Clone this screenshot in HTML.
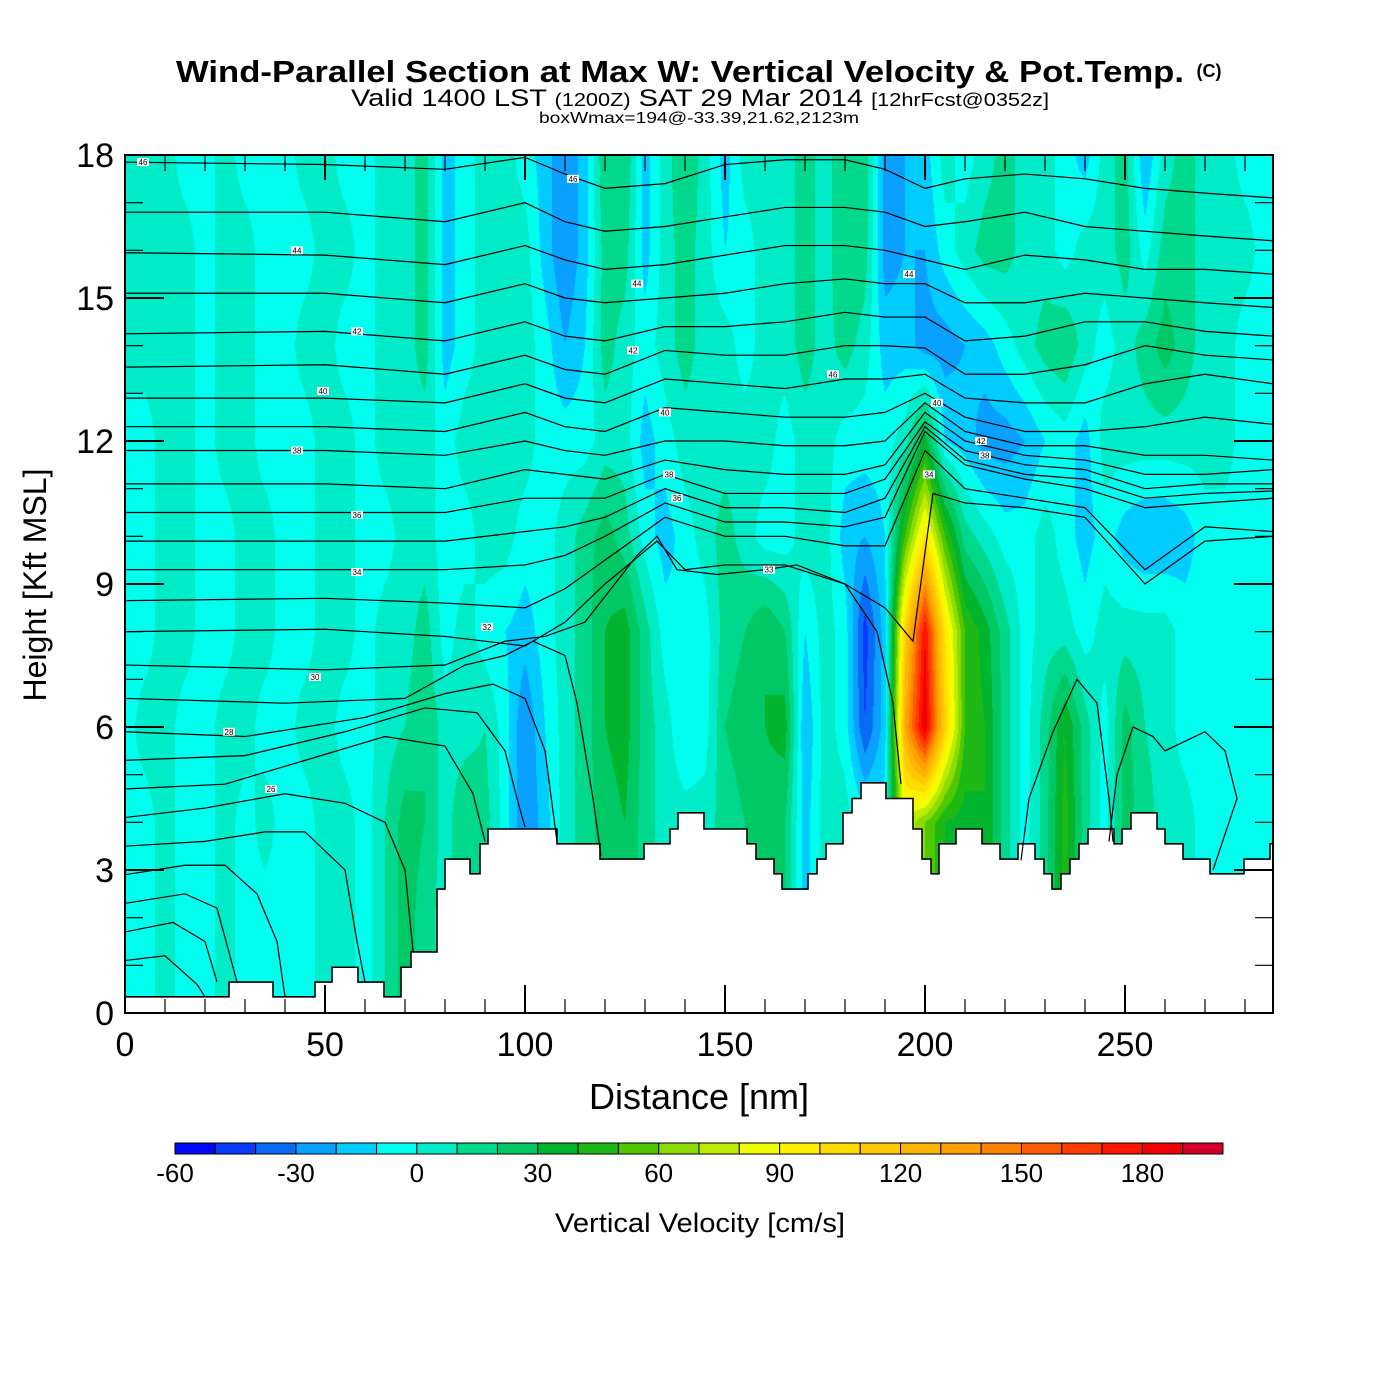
<!DOCTYPE html>
<html><head><meta charset="utf-8">
<style>
html,body{margin:0;padding:0;background:#fff;}
#wrap{position:relative;width:1400px;height:1400px;overflow:hidden;background:#fff;font-family:"Liberation Sans",sans-serif;}
#field{position:absolute;left:125px;top:155px;}
#over{position:absolute;left:0;top:0;}
</style></head>
<body>
<div id="wrap">
<canvas id="field" width="1148" height="858"></canvas>
<svg id="over" width="1400" height="1400" xmlns="http://www.w3.org/2000/svg">
<text x="680" y="82" text-anchor="middle" font-family="Liberation Sans, sans-serif" font-weight="bold" font-size="31" textLength="1008" lengthAdjust="spacingAndGlyphs">Wind-Parallel Section at Max W: Vertical Velocity &amp; Pot.Temp.</text>
<text x="1209" y="77" text-anchor="middle" font-family="Liberation Sans, sans-serif" font-weight="bold" font-size="18">(C)</text>
<text x="700" y="106" text-anchor="middle" font-family="Liberation Sans, sans-serif" font-size="24" textLength="698" lengthAdjust="spacingAndGlyphs">Valid 1400 LST <tspan font-size="18">(1200Z)</tspan> SAT 29 Mar 2014 <tspan font-size="18">[12hrFcst@0352z]</tspan></text>
<text x="699" y="123" text-anchor="middle" font-family="Liberation Sans, sans-serif" font-size="16" textLength="320" lengthAdjust="spacingAndGlyphs">boxWmax=194@-33.39,21.62,2123m</text>
<g id="lines"></g>
<g id="terrainG"></g>
<g id="labelsG"></g>
<g id="axesG"></g>
<text x="699" y="1109" text-anchor="middle" font-family="Liberation Sans, sans-serif" font-size="36">Distance [nm]</text>
<text transform="translate(46,585) rotate(-90)" text-anchor="middle" font-family="Liberation Sans, sans-serif" font-size="32">Height [Kft MSL]</text>
<g id="cbarG"></g>
<text x="700" y="1232" text-anchor="middle" font-family="Liberation Sans, sans-serif" font-size="27" textLength="290" lengthAdjust="spacingAndGlyphs">Vertical Velocity [cm/s]</text>
</svg>
</div>
<script>
// ---- data ----
const gridNm = [0,5,10,15,20,25,30,35,40,45,50,55,60,65,70,75,80,85,90,95,100,105,110,115,120,125,130,135,140,145,150,155,160,165,170,175,180,185,190,195,200,205,210,215,220,225,230,235,240,245,250,255,260,265,270,275,280,285,290];
const gridKft = [0,2,4,6,8,10,12,14,16,18];
const w0 = [-5,-5,5,-5,-5,5,-5,-5,-5,-5, 5,5,-5,10,25,15,5,20,15,-5, -30,-15,5,15,25,30,15,5,5,5, 15,20,25,20,-15,5,5,-5,-5,80, 60,40,35,40,15,-5,15,45,15,-5, 25,15,5,5,-5,-5,-5,-10,-10];
const w2 = [-5,-5,5,-5,-5,5,-5,-5,-5,-5, 5,5,-5,10,25,15,5,20,15,-5, -30,-15,5,15,25,30,15,5,5,5, 15,20,25,20,-15,5,5,-5,-5,80, 60,40,35,40,15,-5,15,45,15,-5, 25,15,5,5,-5,-5,-5,-10,-10];
const w4 = [-5,-5,5,-5,-5,5,-5,5,-5,-5, 5,5,-5,10,25,20,5,20,15,-5, -30,-15,5,15,25,30,15,5,5,5, 15,20,25,20,-15,5,5,-5,-5,80, 60,40,35,40,15,-5,15,45,15,-5, 25,15,5,5,-5,-5,-5,-10,-10];
const w6 = [-5,5,5,-5,-5,5,5,-5,-5,5, 5,-5,-5,5,10,20,5,5,10,-5, -30,-10,5,15,30,35,15,5,-10,-5, 20,25,30,35,-20,5,-5,-40,-15,130, 190,110,50,40,15,-5,15,40,15,-5, 25,10,5,-5,-5,-5,-10,-10,-10];
const w8 = [-5,-5,5,5,-5,-5,5,5,-5,-5, 5,5,-5,5,5,15,-5,5,-5,-10, -15,-5,5,15,30,35,15,-5,-10,-5, 15,20,30,20,-10,5,-5,-45,-15,110, 180,100,50,35,15,-5,5,5,-5,5, 5,5,5,-5,-5,-5,-5,-10,-10];
const w10 = [-5,-5,5,5,-5,-5,5,5,-5,-5, 5,5,-5,-5,5,5,-5,-5,5,5, -5,-5,5,15,25,15,-5,-15,-5,5, 15,5,-5,-5,5,5,-15,-20,-10,50, 100,50,15,5,-5,-5,5,-5,-15,-5, -15,-20,-20,-15,-5,-5,-5,-10,-10];
const w12 = [-5,-5,5,5,-5,5,5,-5,-5,-5, 5,5,-5,5,5,5,-5,5,5,5, 5,-5,-5,-5,5,5,-15,-5,5,5, 5,5,5,-5,5,5,-5,-5,-5,5, 35,-10,-15,-25,-25,-20,-10,-5,-15,5, 5,5,5,5,5,5,-5,-5,-5];
const w14 = [5,5,5,5,-5,5,5,-5,-5,5, 5,-5,-5,5,5,15,-15,-5,5,5, 5,-5,-20,-10,15,5,-5,5,15,5, 5,-5,5,5,15,5,15,5,-15,-15, -25,-25,-20,-15,-5,5,15,20,5,-5, 5,15,25,15,5,5,-5,-5,-5];
const w16 = [5,5,5,5,-5,5,5,-5,-5,-5, 5,5,-5,5,5,15,-15,-5,5,5, 5,-15,-30,-15,15,15,-15,5,15,5, -10,-5,5,5,15,5,20,15,-25,-20, -20,-5,5,15,15,5,5,-5,5,5, 15,-5,15,15,5,5,5,-5,-5];
const w18 = [5,5,5,-5,-5,5,-5,-5,-5,5, 5,-5,-5,5,5,15,-15,-5,5,5, -5,-15,-30,-15,20,20,-15,5,20,5, -15,5,5,5,15,5,20,15,-25,-20, -15,5,-5,5,15,5,5,-5,-15,5, 15,-20,5,15,5,5,-5,-5,-5];
const levelColors = ["#0008F5","#0A3AFF","#0A6CF5","#0AA0FF","#00CCFF","#00FFEE","#00EBC8","#00D98C","#00C864","#00B42D","#1EB914","#50C800","#8CDC00","#BEEB00","#F0FF00","#FFF000","#FFDC00","#FFC800","#FFB400","#FFA000","#FF8200","#FF5A00","#FF3C00","#FF1400","#F00000","#D20028"];
const levelMin = -60, levelStep = 10;
const cbarLabels = [-60,-30,0,30,60,90,120,150,180];
const xTicks = [0,50,100,150,200,250];
const yTicks = [0,3,6,9,12,15,18];
const terrainNm = [0,26,37,47.5,51.75,58.25,64.75,69,71.5,78,80,86.25,88.75,90.75,108,118.75,129.75,136.25,138.25,144.75,155.5,157.75,162.25,164.25,170.75,173,175.25,179.5,181.75,184,190.25,197,199.25,201.5,203.5,207.75,214.25,218.75,223.25,227.5,229.75,231.75,234,236.25,238.5,240.75,247.25,249.25,251.5,258,260,264.5,271.25,279.75,286.25];
const terrainKft = [0.34,0.65,0.34,0.65,0.96,0.65,0.34,0.96,1.28,2.6,3.23,2.92,3.55,3.86,3.55,3.23,3.55,3.86,4.2,3.86,3.55,3.23,2.92,2.6,2.92,3.23,3.55,4.2,4.5,4.83,4.5,3.86,3.23,2.92,3.55,3.86,3.55,3.23,3.55,3.23,2.92,2.6,2.92,3.23,3.55,3.86,3.55,3.86,4.2,3.86,3.55,3.23,2.92,3.23,3.55];
const thetaNodes = [0,50,80,100,110,120,135,150,165,180,190,200,210,225,240,255,270,287];
const theta1 = [17.85,17.8,17.7,17.95,17.6,17.3,17.4,17.8,17.9,17.9,17.7,17.3,17.5,17.6,17.5,17.3,17.2,17.1];
const theta2 = [16.8,16.8,16.6,17.0,16.6,16.4,16.5,16.7,16.9,16.9,16.8,16.5,16.6,16.8,16.5,16.4,16.3,16.2];
const theta3 = [15.95,15.9,15.7,16.1,15.8,15.6,15.7,15.9,16.1,16.1,16.0,15.8,15.6,15.9,15.8,15.6,15.6,15.5];
const theta4 = [15.1,15.1,14.9,15.3,15.0,14.9,15.0,15.1,15.3,15.4,15.3,15.3,14.9,14.9,15.1,15.0,14.9,14.8];
const theta5 = [14.25,14.3,14.1,14.5,14.2,14.1,14.4,14.4,14.5,14.7,14.6,14.6,14.1,14.2,14.5,14.5,14.3,14.2];
const theta6 = [13.55,13.6,13.4,13.8,13.5,13.4,13.9,13.8,13.8,14.0,14.0,13.95,13.4,13.4,13.6,14.0,13.8,13.7];
const theta7 = [12.9,12.9,12.8,13.2,12.9,12.8,13.3,13.2,13.1,13.3,13.3,13.4,12.9,12.8,12.8,13.2,13.4,13.2];
const theta8 = [12.3,12.3,12.2,12.6,12.3,12.2,12.7,12.6,12.5,12.5,12.6,13.0,12.5,12.2,12.2,12.3,12.5,12.35];
const theta9 = [11.8,11.8,11.7,12.0,11.8,11.7,12.0,12.0,11.9,11.9,12.0,12.8,12.2,11.9,11.9,11.7,11.7,11.6];
const theta10 = [11.1,11.1,11.0,11.4,11.3,11.2,11.6,11.4,11.3,11.3,11.5,12.6,12.0,11.7,11.6,11.3,11.3,11.4];
const theta11 = [10.5,10.5,10.5,10.8,10.8,10.8,11.3,10.9,10.9,10.9,11.2,12.4,11.8,11.5,11.4,11.0,11.1,11.1];
const theta12 = [9.9,9.9,9.9,10.1,10.2,10.4,11.0,10.6,10.6,10.5,10.8,12.3,11.6,11.3,11.2,10.8,10.9,10.95];
const theta13 = [9.3,9.3,9.3,9.4,9.6,10.0,10.7,10.3,10.3,10.2,10.4,12.2,11.5,11.2,11.0,10.6,10.7,10.8];
const theta14 = [8.65,8.7,8.6,8.5,8.9,9.5,10.4,10.0,10.0,9.8,9.8,11.8,11.0,10.8,10.6,9.3,10.2,10.1];
const thetaLow = [
 [[0,8.0],[50,8.05],[80,7.9],[100,7.7],[110,8.2],[120,9.0],[133,9.9],[140,9.3],[150,9.4],[165,9.4],[180,9.0],[190,8.5],[197,7.8],[202,10.9],[210,10.7],[225,10.6],[240,10.4],[255,9.0],[270,9.9],[287,10.0]],
 [[0,7.3],[50,7.2],[80,7.3],[95,7.8],[105,7.9],[115,8.2],[128,9.6],[133,10.0],[138,9.3],[148,9.2],[160,9.3],[168,9.4],[180,9.0],[188,8.0],[192,6.5],[194,4.8]],
 [[0,6.6],[40,6.5],[70,6.6],[85,7.3],[95,7.5],[102,7.8],[110,7.5],[113,6.5],[117,4.5],[119,3.3]],
 [[0,5.9],[30,5.8],[60,6.2],[80,6.7],[92,6.9],[100,6.6],[105,5.5],[108,3.6]],
 [[0,5.3],[30,5.4],[55,5.9],[75,6.4],[88,6.3],[95,5.5],[98,4.5],[100,3.9]],
 [[0,4.7],[25,4.8],[45,5.3],[65,5.8],[80,5.6],[87,4.6],[90,3.6]],
 [[0,4.1],[20,4.3],[40,4.6],[55,4.4],[65,4.0],[70,3.0],[72,1.3]],
 [[0,3.5],[20,3.6],[35,3.8],[45,3.8],[55,3.0],[58,1.5],[60,0.65]],
 [[0,2.9],[15,3.1],[25,3.1],[33,2.5],[38,1.5],[40,0.34]],
 [[0,2.3],[15,2.5],[23,2.2],[28,0.65]],
 [[0,1.7],[12,1.9],[20,1.5],[23,0.65]],
 [[0,1.1],[10,1.2],[18,0.6],[20,0.34]],
 [[224,3.2],[226,4.5],[232,5.9],[238,7.0],[243,6.5],[246,4.5],[247,3.6]],
 [[246,3.6],[248,5.0],[252,6.0],[257,5.8],[260,5.5],[270,5.9],[275,5.5],[278,4.5],[272,3.0]]
];
const labelNm = [4.5,43,58,49.5,43,58,58,90.5,47.5,26,36.5,112,128,127,135,136,138,161,203,177,196,214,215,201];
const labelKft = [17.85,16.0,14.3,13.05,11.8,10.45,9.25,8.1,7.05,5.9,4.7,17.5,15.3,13.9,12.6,11.3,10.8,9.3,12.8,13.4,15.5,12.0,11.7,11.3];
const labelText = ["46","44","42","40","38","36","34","32","30","28","26","46","44","42","40","38","36","33","40","46","44","42","38","34"];

const PX0=125, PX1=1273, PY0=155, PY1=1013;
const kPx = (PY1-PY0)/18;
function xS(nm){ return PX0 + nm*4; }
function yS(k){ return PY1 - k*kPx; }
const NS="http://www.w3.org/2000/svg";

const wRows = [w0,w2,w4,w6,w8,w10,w12,w14,w16,w18];
const rgb = levelColors.map(c=>[parseInt(c.substr(1,2),16),parseInt(c.substr(3,2),16),parseInt(c.substr(5,2),16)]);
function terrainAt(nm){
  let h = terrainKft[0];
  for(let i=0;i<terrainNm.length;i++){ if(nm>=terrainNm[i]) h=terrainKft[i]; }
  return h;
}
function wAt(nm,k){
  const gx = nm/5, gy = k/2;
  let i = Math.min(Math.floor(gx), gridNm.length-2), j = Math.min(Math.floor(gy), gridKft.length-2);
  const fx = gx-i, fy = gy-j;
  const a=wRows[j][i], b=wRows[j][i+1], c=wRows[j+1][i], d=wRows[j+1][i+1];
  return (a*(1-fx)+b*fx)*(1-fy)+(c*(1-fx)+d*fx)*fy;
}
(function(){
  const cv=document.getElementById('field'); const ctx=cv.getContext('2d');
  const W=cv.width,H=cv.height; const img=ctx.createImageData(W,H); const dta=img.data;
  const terr=[]; for(let x=0;x<W;x++){ terr.push(terrainAt((x+0.5)/4)); }
  for(let y=0;y<H;y++){
    const k = (H-y-0.5)/kPx;
    for(let x=0;x<W;x++){
      const p=(y*W+x)*4;
      if(k<terr[x]){ dta[p]=255;dta[p+1]=255;dta[p+2]=255;dta[p+3]=255; continue; }
      const v=wAt((x+0.5)/4,k);
      let bi=Math.floor((v-levelMin)/levelStep); bi=Math.max(0,Math.min(rgb.length-1,bi));
      const c=rgb[bi]; dta[p]=c[0];dta[p+1]=c[1];dta[p+2]=c[2];dta[p+3]=255;
    }
  }
  ctx.putImageData(img,0,0);
})();

(function(){
  const g=document.getElementById('lines');
  const upper=[theta1,theta2,theta3,theta4,theta5,theta6,theta7,theta8,theta9,theta10,theta11,theta12,theta13,theta14];
  const all=[];
  upper.forEach(arr=>all.push(arr.map((h,i)=>[thetaNodes[i],h])));
  thetaLow.forEach(a=>all.push(a));
  all.forEach((pts,idx)=>{
    const pl=document.createElementNS(NS,'polyline');
    pl.setAttribute('points',pts.map(p=>xS(Math.min(p[0],287))+','+Math.max(PY0,yS(p[1]))).join(' '));
    pl.setAttribute('fill','none'); pl.setAttribute('stroke','#000'); pl.setAttribute('stroke-width','1.2');
    
    
    g.appendChild(pl);
  });
  const lg=document.getElementById('labelsG');
  labelText.forEach((t,i)=>{
    const r=document.createElementNS(NS,'rect');
    r.setAttribute('x',xS(labelNm[i])-6); r.setAttribute('y',yS(labelKft[i])-4);
    r.setAttribute('width',12); r.setAttribute('height',8); r.setAttribute('fill','#fff');
    
    
    lg.appendChild(r);
    const tx=document.createElementNS(NS,'text');
    tx.setAttribute('x',xS(labelNm[i])); tx.setAttribute('y',yS(labelKft[i])+3);
    tx.setAttribute('text-anchor','middle'); tx.setAttribute('font-size','8'); tx.setAttribute('font-family','Liberation Sans, sans-serif');
    tx.textContent=t;
    
    
    lg.appendChild(tx);
  });
})();

(function(){
  const g=document.getElementById('terrainG');
  let pts=[];
  for(let i=0;i<terrainNm.length;i++){
    const x0=xS(terrainNm[i]); const x1=xS(i+1<terrainNm.length?terrainNm[i+1]:287);
    const y=yS(terrainKft[i]);
    pts.push(x0+','+y); pts.push(x1+','+y);
  }
  const pl=document.createElementNS(NS,'polyline');
  pl.setAttribute('points',pts.join(' ')); pl.setAttribute('fill','none'); pl.setAttribute('stroke','#000'); pl.setAttribute('stroke-width','1.6');
  
  
  g.appendChild(pl);
})();

(function(){
  const g=document.getElementById('axesG');
  function line(x1,y1,x2,y2,w,name){
    const l=document.createElementNS(NS,'line');
    l.setAttribute('x1',x1);l.setAttribute('y1',y1);l.setAttribute('x2',x2);l.setAttribute('y2',y2);
    l.setAttribute('stroke','#000');l.setAttribute('stroke-width',w);
    
    
    g.appendChild(l);
  }
  function text(x,y,s,anchor,size,name){
    const t=document.createElementNS(NS,'text');
    t.setAttribute('x',x);t.setAttribute('y',y);t.setAttribute('text-anchor',anchor);
    t.setAttribute('font-size',size);t.setAttribute('font-family','Liberation Sans, sans-serif');
    t.textContent=s;
    
    
    g.appendChild(t);
  }
  for(let nm=10;nm<287;nm+=10){
    const major = nm%50===0; const x=xS(nm);
    line(x,PY1,x,PY1-(major?28:14),major?2:1.2,'x-tick');
    line(x,PY0,x,PY0+(major?25:16),major?2:1.2,'x-tick-top');
  }
  for(let k=1;k<18;k++){
    const major=k%3===0; const y=yS(k);
    line(PX0,y,PX0+(major?39:18),y,major?2:1.2,'y-tick');
    line(PX1,y,PX1-(major?39:18),y,major?2:1.2,'y-tick-right');
  }
  const r=document.createElementNS(NS,'rect');
  r.setAttribute('x',PX0);r.setAttribute('y',PY0);r.setAttribute('width',PX1-PX0);r.setAttribute('height',PY1-PY0);
  r.setAttribute('fill','none');r.setAttribute('stroke','#000');r.setAttribute('stroke-width','2');
  
  
  g.appendChild(r);
  xTicks.forEach(v=>text(xS(v),1056,String(v),'middle',34,'x-tick-label'));
  yTicks.forEach(v=>text(114,yS(v)+12,String(v),'end',34,'y-tick-label'));
})();

(function(){
  const g=document.getElementById('cbarG');
  const x0=175,x1=1223,y0=1143,h=11; const bw=(x1-x0)/levelColors.length;
  levelColors.forEach((c,i)=>{
    const r=document.createElementNS(NS,'rect');
    r.setAttribute('x',x0+i*bw);r.setAttribute('y',y0);r.setAttribute('width',bw);r.setAttribute('height',h);
    r.setAttribute('fill',c);r.setAttribute('stroke','#000');r.setAttribute('stroke-width','1');
    
    
    g.appendChild(r);
  });
  cbarLabels.forEach(v=>{
    const t=document.createElementNS(NS,'text');
    t.setAttribute('x',x0+(v-levelMin)/levelStep*bw);t.setAttribute('y',1182);
    t.setAttribute('text-anchor','middle');t.setAttribute('font-size','26');t.setAttribute('font-family','Liberation Sans, sans-serif');
    t.textContent=String(v);
    
    
    g.appendChild(t);
  });
})();
</script>
</body></html>
